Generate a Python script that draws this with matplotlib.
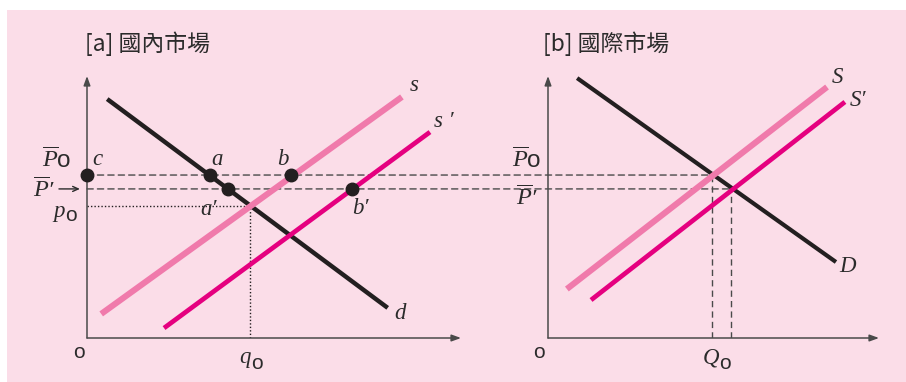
import matplotlib
matplotlib.use("Agg")
import matplotlib.pyplot as plt
from matplotlib.patches import Rectangle, ConnectionPatch
from matplotlib.transforms import offset_copy

plt.rcParams["mathtext.fontset"] = "custom"
plt.rcParams["mathtext.it"] = "Liberation Serif:italic"
plt.rcParams["mathtext.rm"] = "Liberation Serif"
plt.rcParams["mathtext.sf"] = "Liberation Sans"

# price levels (shared by both panels)
P_BAR0 = 6.22
P_BAR_PRIME = 5.69
P0_DOM = 5.04
Q0_DOM = 4.37

# [a] domestic market
d_x = [0.54, 8.04]
d_y = [9.12, 1.15]
s_x = [0.38, 8.42]
s_y = [0.92, 9.20]
s2_x = [2.06, 9.17]
s2_y = [0.38, 7.86]
pts_x = [0.0, 3.30, 5.45, 3.78, 7.08]
pts_y = [P_BAR0, P_BAR0, P_BAR0, P_BAR_PRIME, P_BAR_PRIME]

# [b] world market
D_x = [0.88, 8.70]
D_y = [9.92, 2.90]
S_x = [0.57, 8.43]
S_y = [1.87, 9.58]
S2_x = [1.30, 8.97]
S2_y = [1.45, 9.01]
Q_at_P0 = 4.95
Q_at_Pprime = 5.53

BG = "#fbdde8"
BLACK = "#231f20"
LIGHT = "#f07aab"
MAGENTA = "#e5007f"
GRAY = "#4a4a4a"
TXT = "#2b2b2b"
DASH = (0, (4.5, 3))

fig = plt.figure(figsize=(9.06, 3.82), dpi=100)
fig.patch.set_facecolor("white")
fig.add_artist(Rectangle((7 / 906, 0), 1, 1 - 10 / 382, transform=fig.transFigure,
                         facecolor=BG, edgecolor="none", zorder=-5))

ax_a = fig.add_axes([87 / 906, 44 / 382, 374 / 906, 262 / 382])
ax_b = fig.add_axes([548 / 906, 44 / 382, 331 / 906, 262 / 382])

for ax in (ax_a, ax_b):
    ax.set_xlim(0, 10)
    ax.set_ylim(0, 10)
    ax.set_facecolor("none")
    for sp in ax.spines.values():
        sp.set_visible(False)
    ax.set_xticks([])
    ax.set_yticks([])
    arrow = dict(arrowstyle="-|>,head_length=0.55,head_width=0.2", color=GRAY,
                 lw=1.1, shrinkA=0, shrinkB=0)
    ax.annotate("", xy=(1, 0), xytext=(0, 0), xycoords="axes fraction", arrowprops=arrow)
    ax.annotate("", xy=(0, 1), xytext=(0, 0), xycoords="axes fraction", arrowprops=arrow)

# connecting dashed price lines between the panels
for p, qb in ((P_BAR0, Q_at_P0), (P_BAR_PRIME, Q_at_Pprime)):
    con = ConnectionPatch(xyA=(0, p), coordsA="data", axesA=ax_a,
                          xyB=(qb, p), coordsB="data", axesB=ax_b,
                          color=GRAY, lw=1.0, linestyle=DASH, zorder=-1)
    fig.add_artist(con)

fs = 16.5
lab = dict(color=TXT, fontsize=fs, ha="center", va="center",
           family="Liberation Serif", style="italic")
sans = dict(color=TXT, fontsize=15, ha="center", va="center", family="Liberation Sans")


def sub_label(ax, x, y, letter, dx, dy):
    """Italic letter with a sans 'o' set slightly right and below (offsets in px)."""
    ax.text(x, y, letter, **lab)
    tr = offset_copy(ax.transData, fig=fig, x=dx, y=-dy, units="dots")
    ax.text(x, y, "o", transform=tr, **sans)


# panel a
ax_a.plot([0, Q0_DOM], [P0_DOM, P0_DOM], color=BLACK, lw=1.0, linestyle=(0, (1, 1.5)))
ax_a.plot([Q0_DOM, Q0_DOM], [0, P0_DOM], color=BLACK, lw=1.0, linestyle=(0, (1, 1.5)))
ax_a.plot(d_x, d_y, color=BLACK, lw=3.2, solid_capstyle="butt")
ax_a.plot(s_x, s_y, color=LIGHT, lw=4.4, solid_capstyle="butt")
ax_a.plot(s2_x, s2_y, color=MAGENTA, lw=3.4, solid_capstyle="butt")
ax_a.plot(pts_x, pts_y, "o", color=BLACK, ms=9, clip_on=False, zorder=5)

ax_a.text(8.74, 9.62, "s", **lab)
ax_a.text(9.54, 8.28, "s ′", **lab)
ax_a.text(8.36, 0.95, "d", **lab)
ax_a.text(3.49, 6.83, "a", **lab)
ax_a.text(5.25, 6.83, "b", **lab)
ax_a.text(0.29, 6.83, "c", **lab)
ax_a.text(3.24, 4.92, "a′", **lab)
ax_a.text(7.32, 4.96, "b′", **lab)
ax_a.text(-0.80, 6.79, r"$\overline{P}\mathsf{o}$", **{**lab, "fontsize": 17.5})
ax_a.text(-1.13, 5.62, r"$\overline{P}$′", **{**lab, "fontsize": 17.5})
ax_a.annotate("", xy=(-0.19, P_BAR_PRIME), xytext=(-0.75, P_BAR_PRIME),
              annotation_clip=False,
              arrowprops=dict(arrowstyle="->,head_length=0.4,head_width=0.18",
                              color=TXT, lw=1.0, shrinkA=0, shrinkB=0))
sub_label(ax_a, -0.75, 4.81, "p", 12, 4)
sub_label(ax_a, 4.23, -0.73, "q", 12, 6)
ax_a.text(-0.21, -0.57, "o", **sans)

# panel b
ax_b.plot([Q_at_P0, Q_at_P0], [0, P_BAR0], color=GRAY, lw=1.0, linestyle=DASH)
ax_b.plot([Q_at_Pprime, Q_at_Pprime], [0, P_BAR_PRIME], color=GRAY, lw=1.0, linestyle=DASH)
ax_b.plot(D_x, D_y, color=BLACK, lw=3.0, solid_capstyle="butt")
ax_b.plot(S_x, S_y, color=LIGHT, lw=4.4, solid_capstyle="butt")
ax_b.plot(S2_x, S2_y, color=MAGENTA, lw=3.4, solid_capstyle="butt")

ax_b.text(8.76, 9.96, "S", **lab)
ax_b.text(9.37, 9.08, "S′", **lab)
ax_b.text(9.06, 2.71, "D", **lab)
ax_b.text(-0.63, 6.79, r"$\overline{P}\mathsf{o}$", **{**lab, "fontsize": 17.5})
ax_b.text(-0.63, 5.34, r"$\overline{P}$′", **{**lab, "fontsize": 17.5})
sub_label(ax_b, 4.92, -0.77, "Q", 14, 5)
ax_b.text(-0.27, -0.57, "o", **sans)

title_font = ["Noto Sans CJK TC", "DejaVu Sans"]
fig.text(85 / 906, 1 - 44 / 382, "[a] 國內市場", family=title_font, fontsize=16.5,
         color=TXT, ha="left", va="center")
fig.text(543 / 906, 1 - 44 / 382, "[b] 國際市場", family=title_font, fontsize=16.5,
         color=TXT, ha="left", va="center")

fig.savefig("out.png", dpi=100, facecolor=fig.get_facecolor())
